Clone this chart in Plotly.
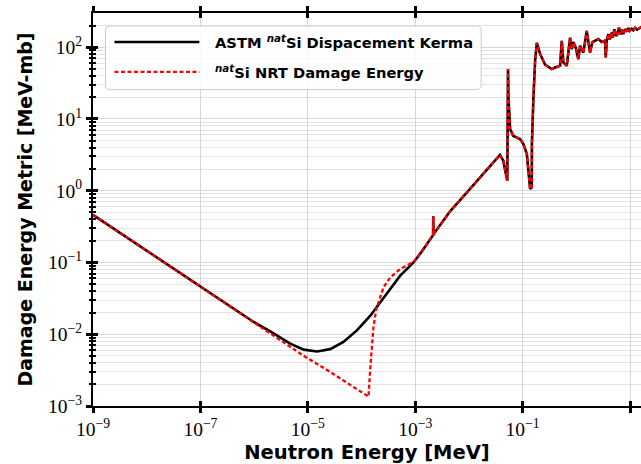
import plotly.graph_objects as go

# ---------------- data ----------------
energy_kerma = [1e-9, 1e-8, 1e-7, 1e-6, 2.0e-6, 4.7e-6, 8.4e-6, 1.48e-5, 2.62e-5, 4.6e-5, 8.2e-5,
                1.46e-4, 2.57e-4, 5.26e-4, 9.3e-4, 1.4e-3, 2.15e-3, 2.17e-3, 2.19e-3, 2.25e-3, 4.5e-3,
                9.2e-3, 0.0187, 0.033, 0.0378, 0.0437, 0.0518, 0.0535, 0.0545, 0.0585, 0.0674,
                0.0897, 0.1035, 0.120, 0.128, 0.138, 0.148, 0.149, 0.159, 0.171, 0.184, 0.212,
                0.262, 0.349, 0.402, 0.499, 0.536, 0.574, 0.664, 0.711, 0.766, 0.823, 0.881, 0.977,
                1.092, 1.175, 1.353, 1.565, 1.675, 1.80, 1.99, 2.23, 2.57, 2.97, 3.43, 3.53, 3.69,
                3.95, 4.2, 4.57, 4.8, 5.11, 5.4, 5.66, 6.0, 6.24, 6.6, 7.0, 7.5, 8.07, 8.6, 9.3,
                9.8, 10.8, 11.5, 12.4, 13.5, 15.3, 17.0, 20.0]
kerma = [0.46, 0.146, 0.046, 0.0147, 0.0110, 0.0074, 0.0061, 0.00575, 0.0062, 0.0078, 0.0113,
         0.0181, 0.032, 0.0655, 0.100, 0.150, 0.24, 0.44, 0.24, 0.255, 0.52,
         0.95, 1.71, 2.76, 3.15, 2.62, 1.38, 49.5, 20.0, 7.2, 5.8,
         5.25, 4.47, 3.24, 1.9, 1.06, 1.11, 4.47, 19.9, 64.7, 115.0, 80.0,
         57.0, 49.5, 52.0, 55.0, 123.0, 61.5, 55.0, 84.0, 136.0, 94.0, 118.0, 98.0,
         68.0, 105.0, 84.0, 169.0, 123.0, 84.0, 118.0, 123.0, 130.0, 118.0, 123.0, 72.0, 123.0,
         152.0, 128.0, 160.0, 136.0, 178.0, 150.0, 144.0, 176.0, 188.0, 150.0, 175.0, 152.0, 178.0, 165.0, 185.0,
         169.0, 180.0, 172.0, 185.0, 175.0, 188.0, 195.0, 205.0]

# NRT damage energy below 1 keV (above it the two curves coincide)
energy_nrt_low = [1e-9, 1e-8, 1e-7, 1e-6, 2e-6, 8.4e-6, 2.4e-5, 6e-5, 1.35e-4, 1.46e-4, 1.67e-4,
                  1.88e-4, 2.57e-4, 3.43e-4, 5.26e-4, 9.3e-4]
nrt_low = [0.46, 0.146, 0.046, 0.0146, 0.0104, 0.0050, 0.0031, 0.0020, 0.00135, 0.0035, 0.0125,
           0.0225, 0.045, 0.062, 0.081, 0.102]

energy_nrt = energy_nrt_low + [e for e in energy_kerma if e > 1e-3]
nrt = nrt_low + [k for e, k in zip(energy_kerma, kerma) if e > 1e-3]

x_tickvals = [1e-9, 1e-7, 1e-5, 1e-3, 1e-1, 1e1]
x_ticktext = ["10<sup>−9</sup>", "10<sup>−7</sup>", "10<sup>−5</sup>", "10<sup>−3</sup>",
              "10<sup>−1</sup>", "10<sup>1</sup>"]
y_tickvals = [1e-3, 1e-2, 1e-1, 1e0, 1e1, 1e2]
y_ticktext = ["10<sup>−3</sup>", "10<sup>−2</sup>", "10<sup>−1</sup>", "10<sup>0</sup>",
              "10<sup>1</sup>", "10<sup>2</sup>"]

label_kerma = "ASTM <sup><i>nat</i></sup>Si Dispacement Kerma"
label_nrt = "<sup><i>nat</i></sup>Si NRT Damage Energy"

# ---------------- layout geometry ----------------
W, H = 641, 464
ML, MR, MT, MB = 92.5, 0, 12.5, 58.3
PW, PH = W - ML - MR, H - MT - MB
XR = [-9, -9 + PW / 53.75]
YR = [-3, -3 + PH / 71.8]

def px(x):
    return (x - ML) / PW

def py(y):
    return 1 - (y - MT) / PH

fig = go.Figure()
fig.add_trace(go.Scatter(x=energy_kerma, y=kerma, mode="lines", name=label_kerma,
                         line=dict(color="black", width=2.6)))
fig.add_trace(go.Scatter(x=energy_nrt, y=nrt, mode="lines", name=label_nrt,
                         line=dict(color="#ff0000", width=2.3, dash="4px,2.5px")))
# dummy trace to realise the overlay axes (inward half of the "inout" ticks)
fig.add_trace(go.Scatter(x=[1e-9], y=[1e-3], xaxis="x2", yaxis="y2", mode="lines",
                         showlegend=False, hoverinfo="skip", line=dict(width=0)))

tickfont = dict(family="Liberation Serif", size=19.5, color="black")
titlefont = dict(family="DejaVu Sans", size=19.5, color="black", weight="bold")
ytitlefont = dict(family="DejaVu Sans", size=19, color="black", weight="bold")

fig.update_layout(
    width=W, height=H,
    margin=dict(l=ML, r=MR, t=MT, b=MB, pad=0),
    plot_bgcolor="white", paper_bgcolor="white",
    showlegend=False,
    xaxis=dict(type="log", range=XR, tickmode="array", tickvals=x_tickvals, ticktext=x_ticktext,
               ticks="outside", ticklen=5, tickwidth=2.5, tickcolor="black",
               showline=True, linewidth=2, linecolor="black", mirror="ticks",
               showgrid=True, gridcolor="#d6d6d6", gridwidth=1, zeroline=False,
               tickfont=tickfont,
               title=dict(text="Neutron Energy [MeV]", font=titlefont, standoff=6)),
    xaxis2=dict(type="log", range=XR, overlaying="x", anchor="y", side="bottom",
                tickmode="array", tickvals=x_tickvals, ticks="inside", ticklen=5, tickwidth=2.5,
                tickcolor="black", showticklabels=False, showgrid=False, showline=False,
                mirror="ticks", zeroline=False),
    yaxis=dict(type="log", range=YR, tickmode="array", tickvals=y_tickvals, ticktext=y_ticktext,
               ticks="outside", ticklen=5, tickwidth=2.5, tickcolor="black",
               showline=True, linewidth=2, linecolor="black", mirror=False,
               showgrid=True, gridcolor="#d6d6d6", gridwidth=1, zeroline=False,
               minor=dict(ticks="outside", ticklen=2.5, tickwidth=1.5, tickcolor="black",
                          showgrid=True, gridcolor="#e3e3e3", gridwidth=1, dtick="D1"),
               tickfont=tickfont,
               title=dict(text="Damage Energy Metric [MeV-mb]", font=ytitlefont, standoff=10)),
    yaxis2=dict(type="log", range=YR, overlaying="y", anchor="x", side="left",
                tickmode="array", tickvals=y_tickvals, ticks="inside", ticklen=5, tickwidth=2.5,
                tickcolor="black", showticklabels=False, showgrid=False, showline=False,
                minor=dict(ticks="inside", ticklen=2.5, tickwidth=1.5, tickcolor="black",
                           showgrid=False, dtick="D1"),
                zeroline=False),
)

# ---------------- legend (matplotlib-like, drawn manually) ----------------
bx0, bx1, by0, by1, r = 105, 481, 25.5, 89, 4
def P(x, y):
    return f"{px(x):.5f},{py(y):.5f}"
path = (f"M {P(bx0 + r, by0)} L {P(bx1 - r, by0)} Q {P(bx1, by0)} {P(bx1, by0 + r)} "
        f"L {P(bx1, by1 - r)} Q {P(bx1, by1)} {P(bx1 - r, by1)} L {P(bx0 + r, by1)} "
        f"Q {P(bx0, by1)} {P(bx0, by1 - r)} L {P(bx0, by0 + r)} Q {P(bx0, by0)} {P(bx0 + r, by0)} Z")
fig.add_shape(type="path", path=path, xref="paper", yref="paper",
              fillcolor="rgba(255,255,255,0.85)", line=dict(color="#cccccc", width=1), layer="above")
fig.add_shape(type="line", xref="paper", yref="paper", x0=px(114), x1=px(199), y0=py(41.5), y1=py(41.5),
              line=dict(color="black", width=2.6))
fig.add_shape(type="line", xref="paper", yref="paper", x0=px(114), x1=px(199), y0=py(71.5), y1=py(71.5),
              line=dict(color="#ff0000", width=2.3, dash="4px,2.5px"))
legfont = dict(family="DejaVu Sans", size=14.7, color="black", weight="bold")
fig.add_annotation(text=label_kerma, xref="paper", yref="paper", x=px(213), y=py(41.5),
                   xanchor="left", yanchor="middle", showarrow=False, font=legfont)
fig.add_annotation(text=label_nrt, xref="paper", yref="paper", x=px(213), y=py(71.5),
                   xanchor="left", yanchor="middle", showarrow=False, font=legfont)

fig.write_html("out.html")
